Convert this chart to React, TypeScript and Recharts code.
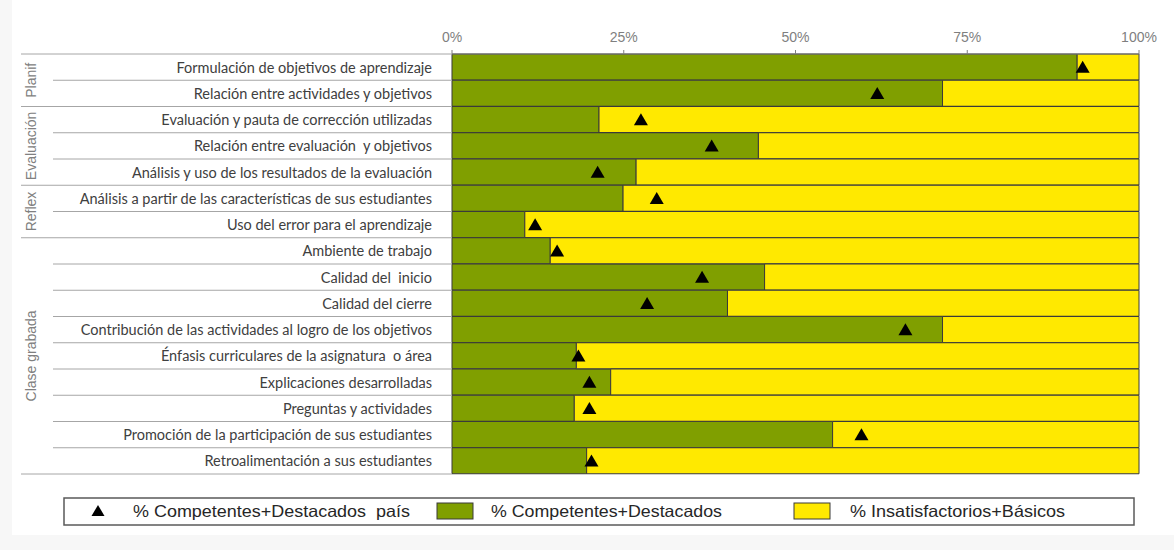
import React from "react";
import { ComposedChart, Bar, Line, XAxis, YAxis } from "recharts";

const categories = [
  "Formulación de objetivos de aprendizaje",
  "Relación entre actividades y objetivos",
  "Evaluación y pauta de corrección utilizadas",
  "Relación entre evaluación  y objetivos",
  "Análisis y uso de los resultados de la evaluación",
  "Análisis a partir de las características de sus estudiantes",
  "Uso del error para el aprendizaje",
  "Ambiente de trabajo",
  "Calidad del  inicio",
  "Calidad del cierre",
  "Contribución de las actividades al logro de los objetivos",
  "Énfasis curriculares de la asignatura  o área",
  "Explicaciones desarrolladas",
  "Preguntas y actividades",
  "Promoción de la participación de sus estudiantes",
  "Retroalimentación a sus estudiantes",
];

// % Competentes+Destacados
const competentes = [
  0.91, 0.714, 0.214, 0.446, 0.268, 0.249, 0.106, 0.143, 0.455, 0.401, 0.714,
  0.181, 0.231, 0.178, 0.554, 0.196,
];

// % Competentes+Destacados país
const pais = [
  0.918, 0.619, 0.275, 0.378, 0.212, 0.298, 0.121, 0.153, 0.364, 0.284, 0.66,
  0.184, 0.2, 0.2, 0.596, 0.203,
];

const groupNames = ["Planif", "Evaluación", "Reflex", "Clase grabada"];
const groupSizes = [2, 3, 2, 9];

const xTicks = [0, 0.25, 0.5, 0.75, 1];

const GREEN = "#809F00";
const YELLOW = "#FFE900";
const BORDER = "#3a3a3a";

const CHART_W = 1174;
const CHART_H = 490;
const MARGIN = { top: 24, right: 35, bottom: 16, left: 12 };
const Y_AXIS_W = 440;
const PLOT_LEFT = MARGIN.left + Y_AXIS_W;
const BAND = (CHART_H - MARGIN.top - 30 - MARGIN.bottom) / categories.length;

const data = categories.map((name, i) => ({
  name,
  comp: competentes[i],
  insat: 1 - competentes[i],
  pais: pais[i],
}));

// group start index and "last row" flags from groupSizes
const groupStart: number[] = [];
const lastInGroup = new Set<number>();
let acc = 0;
groupSizes.forEach((s) => {
  groupStart.push(acc);
  acc += s;
  lastInGroup.add(acc - 1);
});

const CategoryTick = (props: any) => {
  const { y, payload, index } = props;
  const top = y - BAND / 2;
  const bottom = y + BAND / 2;
  const g = groupStart.indexOf(index);
  return (
    <g>
      {index === 0 && (
        <line x1={21} x2={PLOT_LEFT} y1={top} y2={top} stroke="#a6a6a6" />
      )}
      <line
        x1={lastInGroup.has(index) ? 21 : 53}
        x2={PLOT_LEFT}
        y1={bottom}
        y2={bottom}
        stroke="#a6a6a6"
      />
      <text
        x={PLOT_LEFT - 20}
        y={y}
        textAnchor="end"
        dominantBaseline="central"
        fontFamily="Lato, sans-serif"
        fontSize={14.5}
        fill="#404040"
        style={{ whiteSpace: "pre" }}
      >
        {payload.value}
      </text>
      {g >= 0 && (
        <text
          x={31}
          y={top + (groupSizes[g] * BAND) / 2}
          transform={`rotate(-90 31 ${top + (groupSizes[g] * BAND) / 2})`}
          textAnchor="middle"
          dominantBaseline="central"
          fontFamily="Liberation Sans, Arial, sans-serif"
          fontSize={14}
          fill="#808080"
        >
          {groupNames[g]}
        </text>
      )}
    </g>
  );
};

const TriangleDot = (props: any) => {
  const { cx, cy, index } = props;
  if (cx == null || cy == null) return <g key={index} />;
  return (
    <path
      key={index}
      d={`M${cx},${cy - 6.5} L${cx + 7},${cy + 5.5} L${cx - 7},${cy + 5.5} Z`}
      fill="#000"
    />
  );
};

const legendFont = "Liberation Sans Narrow, Liberation Sans, sans-serif";

const LegendBox = () => (
  <svg width={CHART_W} height={50} style={{ position: "absolute", left: 0, top: CHART_H }}>
    <rect x={64} y={8} width={1070} height={27} fill="#fff" stroke="#5a5a5a" strokeWidth={1.5} />
    <path d="M98,15 L104.5,26 L91.5,26 Z" fill="#000" />
    <text x={133} y={27} fontFamily={legendFont} fontSize={16.5} fill="#262626" textLength={277} lengthAdjust="spacingAndGlyphs" style={{ whiteSpace: "pre" }}>
      % Competentes+Destacados  país
    </text>
    <rect x={437} y={13} width={36} height={16} fill={GREEN} stroke={BORDER} />
    <text x={491} y={27} fontFamily={legendFont} fontSize={16.5} fill="#262626" textLength={231} lengthAdjust="spacingAndGlyphs">
      % Competentes+Destacados
    </text>
    <rect x={794} y={13} width={36} height={16} fill={YELLOW} stroke={BORDER} />
    <text x={850} y={27} fontFamily={legendFont} fontSize={16.5} fill="#262626" textLength={215} lengthAdjust="spacingAndGlyphs">
      % Insatisfactorios+Básicos
    </text>
  </svg>
);

export default function App() {
  return (
    <div
      style={{
        position: "absolute",
        left: 0,
        top: 0,
        width: CHART_W,
        height: 550,
        background: "#f7f7f7",
        overflow: "hidden",
      }}
    >
      <div style={{ position: "absolute", left: 12, top: 0, width: 1162, height: 535, background: "#fff" }} />
      <div style={{ position: "absolute", left: 0, top: 0 }}>
        <ComposedChart
          width={CHART_W}
          height={CHART_H}
          data={data}
          layout="vertical"
          margin={MARGIN}
          barCategoryGap={0}
        >
          <XAxis
            type="number"
            orientation="top"
            domain={[0, 1]}
            ticks={xTicks}
            height={30}
            tickFormatter={(v: number) => `${Math.round(v * 100)}%`}
            tick={{ fill: "#7f7f7f", fontSize: 14, fontFamily: "Liberation Sans, Arial, sans-serif" }}
            axisLine={{ stroke: "#7f7f7f" }}
            tickLine={{ stroke: "#7f7f7f" }}
            tickSize={4}
            tickMargin={8}
          />
          <YAxis
            type="category"
            dataKey="name"
            width={Y_AXIS_W}
            axisLine={false}
            tickLine={false}
            interval={0}
            tick={<CategoryTick />}
          />
          <Bar dataKey="comp" stackId="a" fill={GREEN} stroke={BORDER} strokeWidth={1} isAnimationActive={false} />
          <Bar dataKey="insat" stackId="a" fill={YELLOW} stroke={BORDER} strokeWidth={1} isAnimationActive={false} />
          <Line
            dataKey="pais"
            stroke="none"
            dot={<TriangleDot />}
            activeDot={false}
            isAnimationActive={false}
          />
        </ComposedChart>
      </div>
      <LegendBox />
    </div>
  );
}
